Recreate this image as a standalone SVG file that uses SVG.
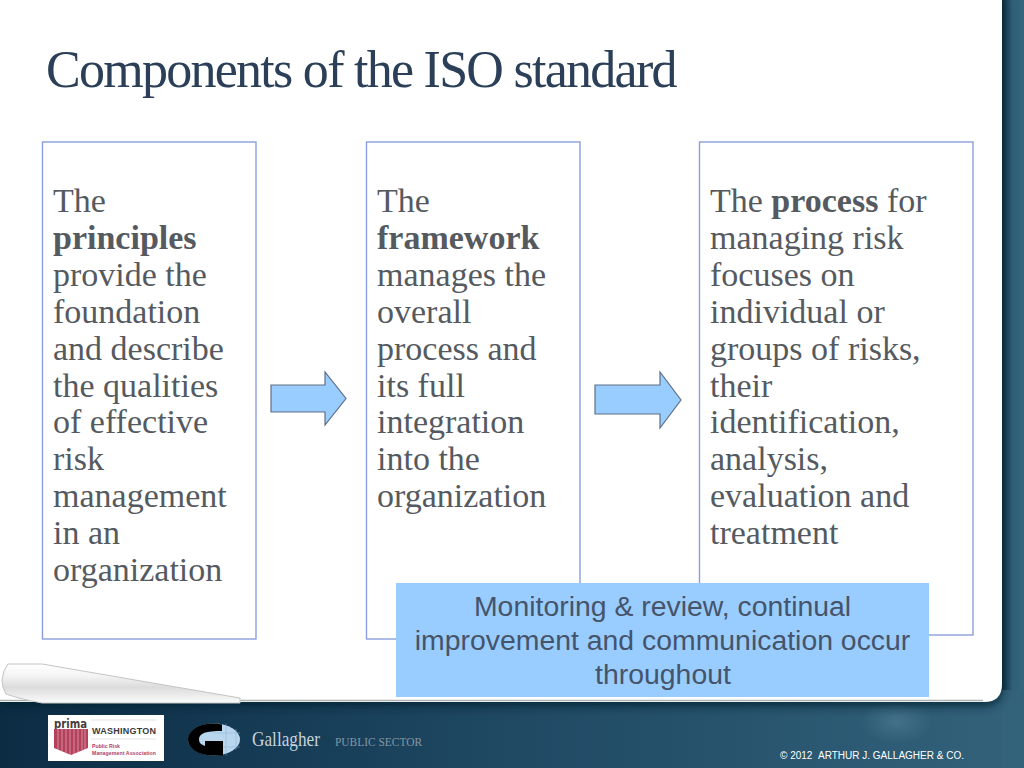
<svg xmlns="http://www.w3.org/2000/svg" width="1024" height="768" viewBox="0 0 1024 768">
<defs>
<linearGradient id="bg" x1="0" y1="0" x2="1" y2="0"><stop offset="0" stop-color="#0c2c44"/><stop offset="0.45" stop-color="#1d4661"/><stop offset="1" stop-color="#33627b"/></linearGradient>
<linearGradient id="side" x1="0" y1="0" x2="1" y2="0"><stop offset="0" stop-color="#0d2f42"/><stop offset="0.45" stop-color="#2f5f76"/><stop offset="1" stop-color="#35667e"/></linearGradient>
<linearGradient id="curl" x1="0" y1="0" x2="0" y2="1"><stop offset="0" stop-color="#ffffff"/><stop offset="0.3" stop-color="#f4f4f4"/><stop offset="0.6" stop-color="#dcdcdc"/><stop offset="1" stop-color="#fbfbfb"/></linearGradient>
<radialGradient id="glow"><stop offset="0" stop-color="#4d7a91" stop-opacity="0.7"/><stop offset="1" stop-color="#4d7a91" stop-opacity="0"/></radialGradient>
<filter id="blur" x="-5%" y="-5%" width="110%" height="110%"><feGaussianBlur stdDeviation="5"/></filter>
<style>
.box{fill:#fff;stroke:#8a9fdc;stroke-width:1.4}
.body{font-family:"Liberation Serif",serif;font-size:34px;fill:#555a60}
.arrow{fill:#99ccff;stroke:#5f6f85;stroke-width:1.2}
.b{font-weight:bold}
</style>
</defs>
<g id="background">
<rect width="1024" height="768" fill="url(#bg)"/>
<rect x="1002" y="0" width="22" height="768" fill="#33627b"/>
<rect x="1002" y="0" width="22" height="690" fill="url(#side)"/>
<ellipse cx="897" cy="722" rx="36" ry="22" fill="url(#glow)"/>
<path d="M0 0H1003V686Q1003 706 983 706H0Z" fill="#06202f" opacity="0.8" filter="url(#blur)"/>
<path d="M0 0H1002V684Q1002 702 984 702H0Z" fill="#fff"/>
<path d="M0 700.500H983" stroke="#aeb2b4" stroke-width="1.500" fill="none"/>
<path d="M8 664H42L240 698V703H42Q20 699 6 694Q2 688 2 680Q3 670 8 664Z" fill="url(#curl)" stroke="#c4c4c4" stroke-width="1"/>
</g>
<text id="title" x="46" y="87" font-family="Liberation Serif,serif" font-size="52" letter-spacing="-1.730" fill="#2b4058">Components of the ISO standard</text>
<g id="principles">
<rect class="box" x="42.500" y="142" width="213.500" height="497"/>
<text class="body">
<tspan x="53" y="212">The</tspan>
<tspan x="53" y="249" class="b">principles</tspan>
<tspan x="53" y="286">provide the</tspan>
<tspan x="53" y="323">foundation</tspan>
<tspan x="53" y="360">and describe</tspan>
<tspan x="53" y="397">the qualities</tspan>
<tspan x="53" y="433">of effective</tspan>
<tspan x="53" y="470">risk</tspan>
<tspan x="53" y="507">management</tspan>
<tspan x="53" y="544">in an</tspan>
<tspan x="53" y="581">organization</tspan>
</text>
</g>
<g id="framework">
<rect class="box" x="366.500" y="142" width="213.500" height="497"/>
<text class="body">
<tspan x="377" y="212">The</tspan>
<tspan x="377" y="249" class="b">framework</tspan>
<tspan x="377" y="286">manages the</tspan>
<tspan x="377" y="323">overall</tspan>
<tspan x="377" y="360">process and</tspan>
<tspan x="377" y="397">its full</tspan>
<tspan x="377" y="433">integration</tspan>
<tspan x="377" y="470">into the</tspan>
<tspan x="377" y="507">organization</tspan>
</text>
</g>
<g id="process">
<rect class="box" x="699.500" y="142" width="273.500" height="493"/>
<text class="body">
<tspan x="710" y="212">The <tspan class="b">process</tspan> for</tspan>
<tspan x="710" y="249">managing risk</tspan>
<tspan x="710" y="286">focuses on</tspan>
<tspan x="710" y="323">individual or</tspan>
<tspan x="710" y="360">groups of risks,</tspan>
<tspan x="710" y="397">their</tspan>
<tspan x="710" y="433">identification,</tspan>
<tspan x="710" y="470">analysis,</tspan>
<tspan x="710" y="507">evaluation and</tspan>
<tspan x="710" y="544">treatment</tspan>
</text>
</g>
<g id="connectors">
<polygon class="arrow" points="271,385 325,385 325,372 346,398.500 325,425 325,412 271,412"/>
<polygon class="arrow" points="595,385 660,385 660,372 681,400 660,428 660,414 595,414"/>
</g>
<g id="monitoring">
<rect x="396" y="583" width="533" height="114" fill="#99ccff"/>
<text font-family="Liberation Sans,sans-serif" font-size="28.400" fill="#46546a" text-anchor="middle">
<tspan x="666.500" y="616">Monitoring &amp; review, continual</tspan>
<tspan x="666.500" y="650">improvement and communication occur</tspan>
<tspan x="663" y="684">throughout</tspan>
</text>
</g>
<g id="footer">
<rect x="48" y="715" width="116" height="46" fill="#fff"/>
<text x="54" y="728" font-family="DejaVu Sans,sans-serif" font-weight="bold" font-size="12" fill="#4a3a3a" textLength="33" lengthAdjust="spacingAndGlyphs">prima</text>
<path d="M54 729H88V748L71 755L54 748Z" fill="#b5405c"/>
<path d="M58 729V750M62 729V752M66 729V754M70 729V755M74 729V754M78 729V752M82 729V750M85 729V749" stroke="#e6c3cd" stroke-width="0.600"/>
<path d="M91 720H156M91 739H156" stroke="#c5c5c5" stroke-width="0.500"/>
<text x="92" y="733.500" font-family="Liberation Sans,sans-serif" font-weight="bold" font-size="9" fill="#3a3a3a" textLength="64">WASHINGTON</text>
<text font-family="Liberation Sans,sans-serif" font-weight="bold" font-size="5.200" fill="#b5405c"><tspan x="92" y="748">Public Risk</tspan><tspan x="92" y="755" textLength="64">Management Association</tspan></text>
<ellipse cx="214" cy="739.500" rx="26" ry="16" fill="#b8d6ee"/>
<path d="M226 723.500V755.500M236 729V750M214 733H240M214 747H240" stroke="#8fb2d0" stroke-width="0.500" fill="none"/>
<path d="M222 724.500Q218 723.500 214 723.500C198 723.500 188 731 188 739.500C188 748 198 755.500 214 755.500H223V741H205V746Q199 744 199 739.500C199 733 206 731 222 731Z" fill="#000"/>
<text x="252" y="746" font-family="Liberation Serif,serif" font-size="21" fill="#c6d2da" textLength="68" lengthAdjust="spacingAndGlyphs">Gallagher</text>
<text x="335" y="746" font-family="Liberation Serif,serif" font-size="12" fill="#8496a3" textLength="87" lengthAdjust="spacingAndGlyphs">PUBLIC SECTOR</text>
<text font-family="Liberation Sans,sans-serif" font-size="10" fill="#fff"><tspan x="780" y="759">© 2012</tspan><tspan x="818" y="759">ARTHUR J. GALLAGHER &amp; CO.</tspan></text>
</g>
</svg>
